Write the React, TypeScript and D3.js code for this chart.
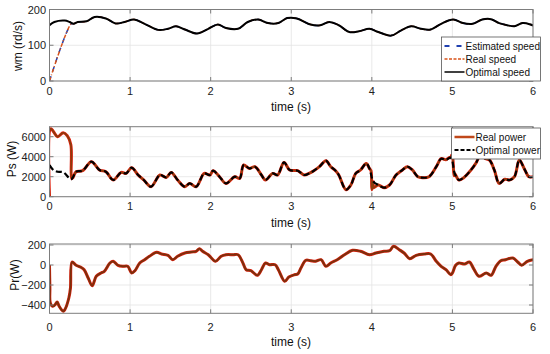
import React from 'react'
import * as d3 from 'd3'

// time ticks shared by all panels
const timeTicks = [0, 1, 2, 3, 4, 5, 6]

// ---- speed panel (rd/s) ----
const speedTicks = [0, 100, 200]
const optSpeedT = [0, 0.06, 0.19, 0.25, 0.3, 0.35, 0.46, 0.56, 0.7, 0.82, 0.93, 1.05, 1.18, 1.35, 1.47, 1.57, 1.68, 1.83, 1.97, 2.09, 2.19, 2.34, 2.46, 2.59, 2.71, 2.84, 2.95, 3.07, 3.24, 3.36, 3.47, 3.59, 3.72, 3.84, 3.97, 4.08, 4.24, 4.36, 4.49, 4.61, 4.73, 4.86, 5.01, 5.13, 5.25, 5.37, 5.48, 5.58, 5.68, 5.77, 5.87, 5.97, 6]
const optSpeedV = [156, 165, 169, 165, 160, 165, 167, 179, 175, 161, 165, 172, 160, 143, 146, 153, 144, 133, 146, 158, 148, 146, 165, 172, 162, 162, 176, 175, 158, 156, 165, 156, 137, 139, 146, 137, 127, 141, 153, 146, 144, 160, 172, 162, 160, 172, 173, 162, 156, 153, 162, 158, 155]
// start-up ramp of the real / estimated speed
const rampT = [0, 0.27]
const rampV = [0, 160]

// ---- stator power panel (W) ----
const psTicks = [0, 2000, 4000, 6000]
const optPsT = [0, 0.05, 0.1, 0.17, 0.27, 0.33, 0.41, 0.52, 0.62, 0.7, 0.79, 0.89, 0.95, 1.02, 1.1, 1.17, 1.26, 1.37, 1.45, 1.51, 1.59, 1.68, 1.74, 1.82, 1.92, 1.99, 2.03, 2.11, 2.19, 2.3, 2.36, 2.41, 2.48, 2.55, 2.63, 2.68, 2.77, 2.83, 2.91, 2.98, 3.08, 3.16, 3.22, 3.28, 3.35, 3.43, 3.49, 3.55, 3.59, 3.68, 3.74, 3.8, 3.86, 3.93, 3.97, 4.02, 4.08, 4.15, 4.22, 4.3, 4.38, 4.44, 4.5, 4.57, 4.63, 4.71, 4.8, 4.86, 4.92, 4.98, 5.03, 5.08, 5.14, 5.23, 5.29, 5.35, 5.41, 5.46, 5.52, 5.58, 5.65, 5.71, 5.77, 5.83, 5.89, 5.95, 6]
const optPsV = [3150, 2650, 2500, 2450, 1750, 2500, 2600, 3500, 2670, 2500, 1670, 2430, 2330, 2900, 2170, 1670, 1000, 2170, 1930, 2430, 1670, 1000, 1330, 1000, 2330, 2170, 2600, 2000, 1330, 2000, 1830, 3170, 2830, 3000, 2170, 1670, 2330, 2170, 3430, 2670, 2600, 2170, 2330, 2600, 3000, 3600, 3000, 2600, 2170, 700, 1170, 2330, 2670, 3330, 2830, 1500, 1170, 900, 1170, 2170, 2670, 3000, 2700, 2000, 1900, 2000, 3000, 3800, 3700, 3900, 2300, 1670, 1900, 2670, 3330, 4150, 3800, 3670, 2670, 1330, 1750, 1670, 2000, 3670, 2830, 2000, 2000]
// start-up transient of the real stator power
const realPsStartT = [0, 0.005, 0.02, 0.05, 0.1, 0.17, 0.22, 0.265, 0.275, 0.29, 0.33]
const realPsStartV = [0, 6700, 6800, 6500, 6000, 6400, 6100, 5200, 1800, 1900, 2500]
// deviations of the real power around the step changes
const realPsDevT = [3.99, 4.0, 4.02, 4.97, 4.99, 5.0, 5.02]
const realPsDevV = [2600, 700, 900, 3950, 4150, 4100, 2100]

// ---- rotor power panel (W) ----
const prTicks = [-400, -200, 0, 200]
const prT = [0, 0.005, 0.01, 0.04, 0.07, 0.095, 0.12, 0.17, 0.19, 0.24, 0.26, 0.28, 0.33, 0.39, 0.43, 0.48, 0.53, 0.58, 0.64, 0.68, 0.75, 0.79, 0.85, 0.91, 0.97, 1.02, 1.06, 1.12, 1.18, 1.24, 1.33, 1.39, 1.47, 1.53, 1.59, 1.68, 1.76, 1.82, 1.86, 1.9, 1.97, 2.06, 2.13, 2.19, 2.28, 2.34, 2.4, 2.44, 2.5, 2.58, 2.63, 2.68, 2.73, 2.8, 2.84, 2.92, 2.97, 3.04, 3.08, 3.12, 3.18, 3.24, 3.3, 3.37, 3.43, 3.49, 3.57, 3.66, 3.76, 3.86, 3.97, 4.05, 4.15, 4.22, 4.27, 4.34, 4.4, 4.47, 4.55, 4.65, 4.73, 4.8, 4.86, 4.92, 4.98, 5.0, 5.04, 5.08, 5.15, 5.21, 5.27, 5.33, 5.42, 5.48, 5.54, 5.6, 5.66, 5.75, 5.81, 5.86, 5.93, 6]
const prV = [0, -230, -380, -413, -397, -370, -413, -463, -447, -330, -230, 30, -3, -23, -47, -130, -207, -113, -80, -63, 20, 37, -3, -13, -13, -80, -57, 20, 53, 87, 127, 110, 97, 53, 87, 120, 130, 137, 163, 137, 103, 37, 87, 103, 103, 103, 20, -47, -57, -103, -47, 20, 3, 3, -47, -163, -120, -97, -90, -30, 47, 43, 37, 53, -13, 20, 53, 103, 147, 137, 103, 120, 137, 143, 187, 153, 120, 63, 97, 110, 110, 37, -13, -47, -97, -80, -3, 20, 10, 30, -47, -113, -80, -103, -13, 43, 53, 70, 30, -3, 37, 53]

type Pt = [number, number]
const zip = (t: number[], v: number[]): Pt[] => t.map((x, i) => [x, v[i]])

const optSpeed = zip(optSpeedT, optSpeedV)
const realSpeed = [...zip(rampT, rampV), ...optSpeed.filter((d) => d[0] > 0.28)]
const optPs = zip(optPsT, optPsV)
const realPs = [
  ...zip(realPsStartT, realPsStartV),
  ...optPs.filter((d) => d[0] > 0.34),
  ...zip(realPsDevT, realPsDevV),
].sort((a, b) => a[0] - b[0])
const pr = zip(prT, prV)

const W = 550
const H = 354
const X0 = 49.5
const X1 = 533
const font = '"Liberation Sans", Arial, Helvetica, sans-serif'

const x = d3.scaleLinear().domain([0, 6]).range([X0, X1])

interface SeriesDef {
  data: Pt[]
  color: string
  width: number
  dash?: string
}
interface LegendItem {
  label: string
  color: string
  width: number
  dash?: string
}

interface PanelProps {
  top: number
  bottom: number
  domain: [number, number]
  ticks: number[]
  ylabel: string
  labelX: number
  labelY: number
  series: SeriesDef[]
  legend?: { x: number; y: number; w: number; items: LegendItem[] }
  tickY: number
  titleY: number
}

const Panel = ({ top, bottom, domain, ticks, ylabel, labelX, labelY, series, legend, tickY, titleY }: PanelProps) => {
  const y = d3.scaleLinear().domain(domain).range([bottom, top])
  const line = d3
    .line<Pt>()
    .x((d) => x(d[0]))
    .y((d) => y(d[1]))
    .curve(d3.curveCatmullRom.alpha(0.5))
  const clipId = 'clip' + Math.round(top)
  return (
    <g>
      <defs>
        <clipPath id={clipId}>
          <rect x={X0} y={top} width={X1 - X0} height={bottom - top} />
        </clipPath>
      </defs>
      <rect x={X0} y={top} width={X1 - X0} height={bottom - top} fill="#fff" />
      {timeTicks.map((t) => (
        <line key={'gx' + t} x1={x(t)} x2={x(t)} y1={top} y2={bottom} stroke="#e3e3e3" strokeWidth={0.8} />
      ))}
      {ticks.map((v) => (
        <line key={'gy' + v} x1={X0} x2={X1} y1={y(v)} y2={y(v)} stroke="#e3e3e3" strokeWidth={0.8} />
      ))}
      <g clipPath={`url(#${clipId})`}>
        {series.map((s, i) => (
          <path
            key={i}
            d={line(s.data) || ''}
            fill="none"
            stroke={s.color}
            strokeWidth={s.width}
            strokeDasharray={s.dash}
            strokeLinejoin="round"
          />
        ))}
      </g>
      <rect x={X0} y={top} width={X1 - X0} height={bottom - top} fill="none" stroke="#7d7d7d" strokeWidth={1} />
      {timeTicks.map((t) => (
        <g key={'tx' + t}>
          <line x1={x(t)} x2={x(t)} y1={bottom} y2={bottom - 4} stroke="#7d7d7d" />
          <line x1={x(t)} x2={x(t)} y1={top} y2={top + 4} stroke="#7d7d7d" />
          <text x={x(t)} y={tickY} fontSize={11} textAnchor="middle" fill="#222">
            {t}
          </text>
        </g>
      ))}
      {ticks.map((v) => (
        <g key={'ty' + v}>
          <line x1={X0} x2={X0 + 4} y1={y(v)} y2={y(v)} stroke="#7d7d7d" />
          <line x1={X1} x2={X1 - 4} y1={y(v)} y2={y(v)} stroke="#7d7d7d" />
          <text x={X0 - 3.5} y={y(v) + 4} fontSize={11} textAnchor="end" fill="#222">
            {v < 0 ? '\u2212' + Math.abs(v) : v}
          </text>
        </g>
      ))}
      <text x={291} y={titleY} fontSize={12} textAnchor="middle" fill="#111">
        time (s)
      </text>
      <text transform={`translate(${labelX},${labelY}) rotate(-90)`} fontSize={12} textAnchor="middle" fill="#111">
        {ylabel}
      </text>
      {legend && (
        <g>
          <rect
            x={legend.x}
            y={legend.y}
            width={legend.w}
            height={legend.items.length * 13 + 5}
            fill="#fff"
            stroke="#555"
            strokeWidth={0.8}
          />
          {legend.items.map((it, i) => {
            const ly = legend.y + 9 + i * 13
            return (
              <g key={it.label}>
                <line
                  x1={legend.x + 3}
                  x2={legend.x + 23}
                  y1={ly}
                  y2={ly}
                  stroke={it.color}
                  strokeWidth={it.width}
                  strokeDasharray={it.dash}
                />
                <text x={legend.x + 24} y={ly + 3.6} fontSize={10} fill="#111">
                  {it.label}
                </text>
              </g>
            )
          })}
        </g>
      )}
    </g>
  )
}

export default function App() {
  return (
    <svg
      width={W}
      height={H}
      style={{ display: 'block', fontFamily: font, position: 'absolute', left: 0, top: 0 }}
    >
      <rect width={W} height={H} fill="#fff" />
      <Panel
        top={9.5}
        bottom={81}
        domain={[0, 200]}
        ticks={speedTicks}
        ylabel="wm (rd/s)"
        labelX={22}
        labelY={46}
        tickY={95}
        titleY={111}
        series={[
          { data: realSpeed, color: '#2040b0', width: 1.5, dash: '5 5' },
          { data: realSpeed, color: '#d9531a', width: 1.5, dash: '4 2 1 2' },
          { data: optSpeed, color: '#000', width: 2 },
        ]}
        legend={{
          x: 441.5,
          y: 37,
          w: 99,
          items: [
            { label: 'Estimated speed', color: '#2040b0', width: 2, dash: '5 7' },
            { label: 'Real speed', color: '#d9531a', width: 1.5, dash: '3 1.5' },
            { label: 'Optimal speed', color: '#000', width: 1.5 },
          ],
        }}
      />
      <Panel
        top={126.7}
        bottom={196.7}
        domain={[0, 7000]}
        ticks={psTicks}
        ylabel="Ps (W)"
        labelX={16}
        labelY={159}
        tickY={210}
        titleY={227}
        series={[
          { data: realPs, color: '#e0200e', width: 3 },
          { data: realPs, color: '#8a3c0c', width: 1.6 },
          { data: optPs, color: '#000', width: 2.2, dash: '6 3' },
        ]}
        legend={{
          x: 451.5,
          y: 128,
          w: 89,
          items: [
            { label: 'Real power', color: '#c0481a', width: 2.5 },
            { label: 'Optimal power', color: '#000', width: 2, dash: '4 2' },
          ],
        }}
      />
      <Panel
        top={244}
        bottom={313.3}
        domain={[-483, 210]}
        ticks={prTicks}
        ylabel="Pr(W)"
        labelX={19}
        labelY={275}
        tickY={331}
        titleY={346}
        series={[
          { data: pr, color: '#d8200e', width: 3 },
          { data: pr, color: '#7a300c', width: 1.8 },
        ]}
      />
    </svg>
  )
}
